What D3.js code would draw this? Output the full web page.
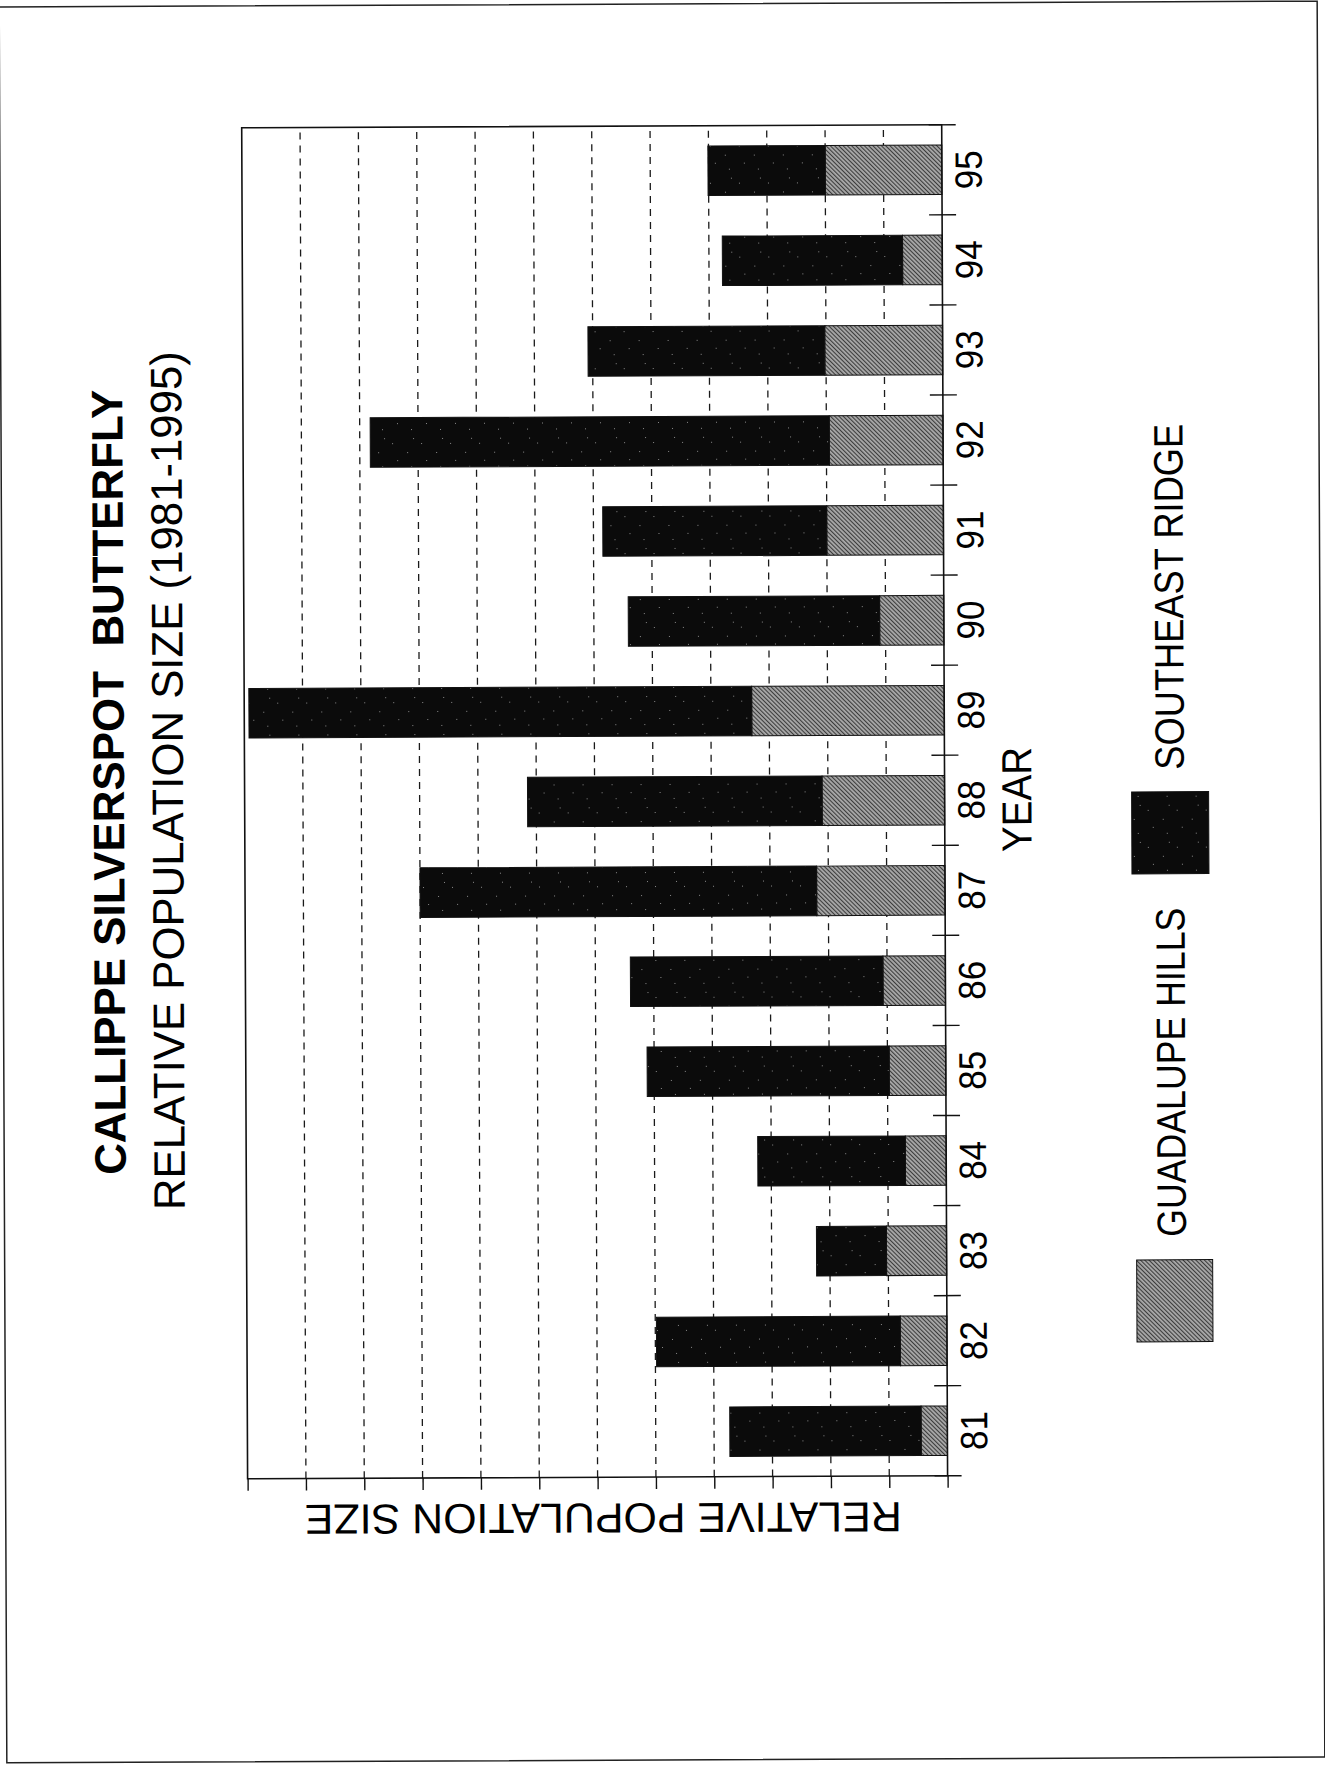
<!DOCTYPE html>
<html>
<head>
<meta charset="utf-8">
<script src="https://cdn.jsdelivr.net/npm/d3@7"></script>
<style>
  html, body { margin: 0; padding: 0; background: #fff; }
  svg { display: block; }
  text { font-family: "Liberation Sans", Arial, Helvetica, sans-serif; fill: #000; }
</style>
</head>
<body>
<svg id="chart" width="1325" height="1766"></svg>
<script>
// Callippe silverspot butterfly: relative population size by year and site
const years = ["81", "82", "83", "84", "85", "86", "87", "88", "89", "90", "91", "92", "93", "94", "95"];
const guadalupeHills = [0.45, 0.80, 1.03, 0.70, 0.97, 1.07, 2.20, 2.10, 3.30, 1.10, 2.00, 1.95, 2.02, 0.68, 2.00];
const southeastRidge = [3.28, 4.18, 1.20, 2.53, 4.15, 4.33, 6.80, 5.05, 8.62, 4.31, 3.84, 7.87, 4.06, 3.09, 2.01];
const valueTicks = d3.range(0, 13);
const gridValues = d3.range(1, 12);
const seriesKeys = ["guadalupe", "southeast"];
const seriesLabels = ["GUADALUPE HILLS", "SOUTHEAST RIDGE"];

const W = 1325, H = 1766;
const svg = d3.select("#chart");
const defs = svg.append("defs");

// fine diagonal hatching for the Guadalupe Hills segments
const hatch = defs.append("pattern")
  .attr("id", "hatch")
  .attr("patternUnits", "userSpaceOnUse")
  .attr("width", 3).attr("height", 3)
  .attr("patternTransform", "rotate(45)");
hatch.append("rect").attr("width", 3).attr("height", 3).attr("fill", "#a9a9a9");
hatch.append("rect").attr("width", 1.1).attr("height", 3).attr("fill", "#3c3c3c");

// near-black fill with a few light specks for the Southeast Ridge segments
const speck = defs.append("pattern")
  .attr("id", "speck")
  .attr("patternUnits", "userSpaceOnUse")
  .attr("width", 37).attr("height", 29);
speck.append("rect").attr("width", 37).attr("height", 29).attr("fill", "#0b0b0b");
[[5, 7], [19, 3], [28, 17], [11, 22], [33, 9]].forEach(([px, py]) => {
  speck.append("rect").attr("x", px).attr("y", py).attr("width", 1).attr("height", 1).attr("fill", "#8a8a8a");
});

const fills = { guadalupe: "url(#hatch)", southeast: "url(#speck)" };

// whole sheet, very slightly turned
const sheet = svg.append("g").attr("transform", "rotate(-0.25,662,883)");

sheet.append("rect")
  .attr("x", 3).attr("y", 4)
  .attr("width", 1318).attr("height", 1756)
  .attr("fill", "none").attr("stroke", "#222").attr("stroke-width", 1.5);

// the chart is laid out upright, then turned a quarter turn counter-clockwise
const g = sheet.append("g").attr("transform", `translate(0,${H}) rotate(-90)`);

const plot = { left: 289, right: 1640, top: 245, bottom: 945 };

const x = d3.scaleBand()
  .domain(years)
  .range([plot.left, plot.right])
  .paddingInner(0.45)
  .paddingOuter(0.225);

const y = d3.scaleLinear()
  .domain([0, 12])
  .range([plot.bottom, plot.top]);

// dashed grid
g.append("g")
  .selectAll("line")
  .data(gridValues)
  .join("line")
  .attr("x1", plot.left).attr("x2", plot.right)
  .attr("y1", d => y(d)).attr("y2", d => y(d))
  .attr("stroke", "#1a1a1a")
  .attr("stroke-width", 1.3)
  .attr("stroke-dasharray", "7,6");

// stacked bars
const rows = years.map((yr, i) => ({ year: yr, guadalupe: guadalupeHills[i], southeast: southeastRidge[i] }));
const stacked = d3.stack().keys(seriesKeys)(rows);

g.append("g")
  .selectAll("g")
  .data(stacked)
  .join("g")
  .attr("fill", d => fills[d.key])
  .selectAll("rect")
  .data(d => d)
  .join("rect")
  .attr("x", d => x(d.data.year))
  .attr("width", x.bandwidth())
  .attr("y", d => y(d[1]))
  .attr("height", d => y(d[0]) - y(d[1]))
  .attr("stroke", "#111")
  .attr("stroke-width", 1);

// frame
g.append("rect")
  .attr("x", plot.left).attr("y", plot.top)
  .attr("width", plot.right - plot.left)
  .attr("height", plot.bottom - plot.top)
  .attr("fill", "none")
  .attr("stroke", "#111")
  .attr("stroke-width", 1.6);

// value axis ticks (no numbers)
const valueAxis = d3.axisLeft(y).tickValues(valueTicks).tickSize(12).tickFormat("");
const va = g.append("g").attr("transform", `translate(${plot.left},0)`).call(valueAxis);
va.select(".domain").remove();
va.selectAll(".tick line").attr("stroke", "#111").attr("stroke-width", 1.4);

// year axis: ticks between bars, crossing the baseline
const step = x.step();
const boundaries = years.map(d => x(d) - x.paddingInner() * step / 2).concat([plot.right]);
g.append("g")
  .selectAll("line")
  .data(boundaries)
  .join("line")
  .attr("x1", d => d).attr("x2", d => d)
  .attr("y1", plot.bottom - 13).attr("y2", plot.bottom + 14)
  .attr("stroke", "#111")
  .attr("stroke-width", 1.4);

g.append("g")
  .selectAll("text")
  .data(years)
  .join("text")
  .attr("x", d => x(d) + x.bandwidth() / 2)
  .attr("y", 971.5)
  .attr("dy", "0.35em")
  .attr("text-anchor", "middle")
  .attr("font-size", 38)
  .attr("textLength", 39)
  .attr("lengthAdjust", "spacingAndGlyphs")
  .text(d => d);

g.append("text")
  .attr("x", 965).attr("y", 1017)
  .attr("dy", "0.35em")
  .attr("text-anchor", "middle")
  .attr("font-size", 42)
  .attr("textLength", 105)
  .attr("lengthAdjust", "spacingAndGlyphs")
  .text("YEAR");

// value axis title
g.append("text")
  .attr("transform", "translate(248,600.5) rotate(-90)")
  .attr("dy", "0.35em")
  .attr("text-anchor", "middle")
  .attr("font-size", 42)
  .attr("textLength", 597)
  .attr("lengthAdjust", "spacingAndGlyphs")
  .text("RELATIVE POPULATION SIZE");

// titles
g.append("text")
  .attr("x", 986).attr("y", 109)
  .attr("dy", "0.35em")
  .attr("text-anchor", "middle")
  .attr("font-size", 44)
  .attr("font-weight", "bold")
  .attr("textLength", 785)
  .attr("lengthAdjust", "spacingAndGlyphs")
  .style("white-space", "pre")
  .text("CALLIPPE SILVERSPOT  BUTTERFLY");

g.append("text")
  .attr("x", 987.5).attr("y", 168)
  .attr("dy", "0.35em")
  .attr("text-anchor", "middle")
  .attr("font-size", 44)
  .attr("textLength", 859)
  .attr("lengthAdjust", "spacingAndGlyphs")
  .text("RELATIVE POPULATION SIZE (1981-1995)");

// legend
const legendItems = [
  { key: "guadalupe", label: seriesLabels[0], sx: 422, sy: 1135, sw: 82, sh: 76, tx: 527, tl: 329 },
  { key: "southeast", label: seriesLabels[1], sx: 890, sy: 1132, sw: 82, sh: 77, tx: 994, tl: 346 }
];
const legend = g.append("g");
legend.selectAll("rect")
  .data(legendItems)
  .join("rect")
  .attr("x", d => d.sx).attr("y", d => d.sy)
  .attr("width", d => d.sw).attr("height", d => d.sh)
  .attr("fill", d => fills[d.key])
  .attr("stroke", "#111").attr("stroke-width", 1);
legend.selectAll("text")
  .data(legendItems)
  .join("text")
  .attr("x", d => d.tx).attr("y", 1170)
  .attr("dy", "0.35em")
  .attr("font-size", 41)
  .attr("textLength", d => d.tl)
  .attr("lengthAdjust", "spacingAndGlyphs")
  .text(d => d.label);
</script>
</body>
</html>
